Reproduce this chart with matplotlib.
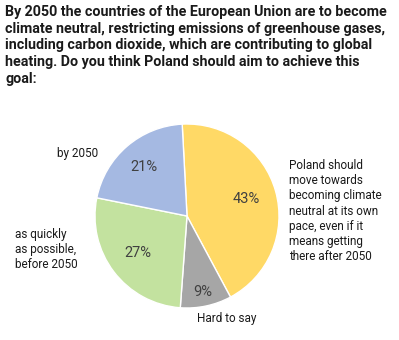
import matplotlib.pyplot as plt

plt.rcParams['font.family'] = ['Roboto', 'DejaVu Sans']

# answers, clockwise from the top
labels = ['Poland should\nmove towards\nbecoming climate\nneutral at its own\npace, even if it\nmeans getting\nthere after 2050',
          'Hard to say',
          'as quickly\nas possible,\nbefore 2050',
          'by 2050']
shares = [43, 9, 27, 21]
colors = ['#FFD966', '#A6A6A6', '#C3E29F', '#A5B9E2']

title = ('By 2050 the countries of the European Union are to become\n'
         'climate neutral, restricting emissions of greenhouse gases,\n'
         'including carbon dioxide, which are contributing to global\n'
         'heating. Do you think Poland should aim to achieve this\n'
         'goal:')

W, H = 399, 340
fig = plt.figure(figsize=(W / 100, H / 100), dpi=100)

cx, cy, r = 187, 216, 92
ax = fig.add_axes([(cx - r) / W, (H - cy - r) / H, 2 * r / W, 2 * r / H])

wedges, texts, autotexts = ax.pie(
    shares, colors=colors, startangle=93, counterclock=False,
    autopct='%d%%', pctdistance=0.67,
    wedgeprops=dict(edgecolor='white', linewidth=1),
    textprops=dict(color='#404040', fontsize=10.5))
ax.set_xlim(-1, 1)
ax.set_ylim(-1, 1)

# small slice label sits further out
x, y = autotexts[1].get_position()
autotexts[1].set_position((x * 0.84 / 0.67, y * 0.84 / 0.67))
x, y = autotexts[3].get_position()
autotexts[3].set_position((x * 0.71 / 0.67, y * 0.71 / 0.67))

fig.text(5 / W, 1 - 5 / H, title, ha='left', va='top', fontsize=10.3,
         fontweight='bold', color='#1a1a1a', linespacing=1.25)

lab_kw = dict(fontsize=8.5, color='#1a1a1a', linespacing=1.22)
fig.text(289 / W, 1 - 159 / H, labels[0], ha='left', va='top', **lab_kw)
fig.text(197 / W, 1 - 312 / H, labels[1], ha='left', va='top', **lab_kw)
fig.text(15 / W, 1 - 228 / H, labels[2], ha='left', va='top', **lab_kw)
fig.text(98 / W, 1 - 147 / H, labels[3], ha='right', va='top', **lab_kw)

fig.savefig('out.png', dpi=100)
